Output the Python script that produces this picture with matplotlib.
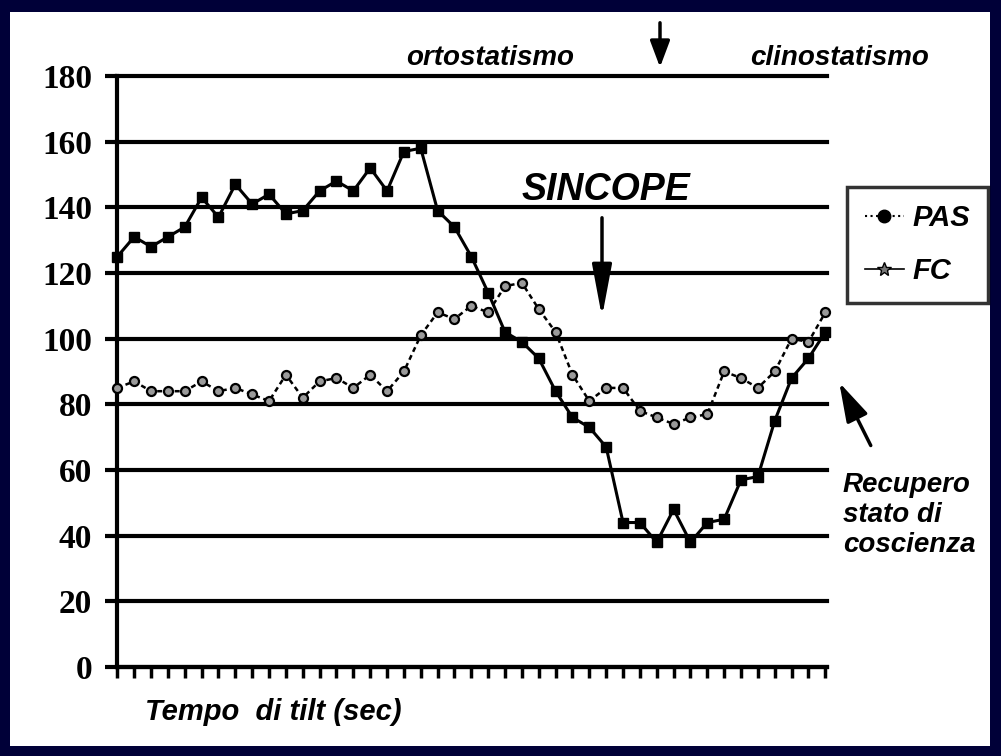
import matplotlib.pyplot as plt
from matplotlib.patches import Rectangle, FancyArrowPatch
from matplotlib.lines import Line2D

# tilt test: one reading per tick
tempo = list(range(43))
pas = [125, 131, 128, 131, 134, 143, 137, 147, 141, 144, 138, 139, 145, 148, 145,
       152, 145, 157, 158, 139, 134, 125, 114, 102, 99, 94, 84, 76, 73, 67,
       44, 44, 38, 48, 38, 44, 45, 57, 58, 75, 88, 94, 102]
fc = [85, 87, 84, 84, 84, 87, 84, 85, 83, 81, 89, 82, 87, 88, 85,
      89, 84, 90, 101, 108, 106, 110, 108, 116, 117, 109, 102, 89, 81, 85,
      85, 78, 76, 74, 76, 77, 90, 88, 85, 90, 100, 99, 108]
y_ticks = [0, 20, 40, 60, 80, 100, 120, 140, 160, 180]

W, H = 1001, 756
fig = plt.figure(figsize=(W / 100, H / 100), dpi=100, facecolor='#000038')
# white slide area inside the navy frame
fig.patches.append(Rectangle((10 / W, 10 / H), 980 / W, 734 / H,
                             transform=fig.transFigure, facecolor='white',
                             edgecolor='none', zorder=-10))

ax = fig.add_axes([117 / W, 1 - 667 / H, 710 / W, 591 / H])
ax.set_facecolor('none')

ax.plot(tempo, pas, color='black', lw=2.2, marker='s', ms=7.5,
        mfc='black', mec='black', zorder=4, clip_on=False)
ax.plot(tempo, fc, color='black', lw=1.8, ls=(0, (2, 1.5)), marker='o', ms=6.5,
        mfc='#9a9a9a', mec='black', mew=1.6, zorder=4, clip_on=False)

ax.set_ylim(0, 180)
ax.set_xlim(-0.02, 42.1)
ax.set_yticks(y_ticks)
ax.set_xticks(tempo)
ax.set_xticklabels([])
ax.grid(axis='y', color='black', lw=3)
for gl in ax.get_ygridlines():
    gl.set_clip_on(False)
ax.set_axisbelow(True)
for s in ['top', 'right']:
    ax.spines[s].set_visible(False)
ax.spines['left'].set_linewidth(3)
ax.spines['bottom'].set_linewidth(3)
ax.tick_params(axis='y', direction='out', length=9, width=3, pad=9)
ax.tick_params(axis='x', direction='out', length=8, width=2.5)
for lab in ax.get_yticklabels():
    lab.set_fontfamily('Liberation Serif')
    lab.set_fontweight('bold')
    lab.set_fontsize(24)

txt = dict(family='Liberation Sans', weight='bold', style='italic', color='black')

def fx(px):
    return px / W

def fy(py):
    return 1 - py / H

fig.text(fx(490), fy(58), 'ortostatismo', ha='center', va='center', fontsize=20, **txt)
fig.text(fx(840), fy(58), 'clinostatismo', ha='center', va='center', fontsize=20, **txt)
fig.text(fx(606), fy(190), 'SINCOPE', ha='center', va='center', fontsize=27, **txt)
fig.text(fx(145), fy(712), 'Tempo  di tilt (sec)', ha='left', va='center', fontsize=21, **txt)
fig.text(fx(843), fy(515), 'Recupero\nstato di\ncoscienza', ha='left', va='center',
         fontsize=20, linespacing=1.2, **txt)

# (start, end, head length, head width)
arrows = [((660, 20), (660, 70), 0.8, 0.3),
          ((602, 215), (602, 320), 1.6, 0.3),
          ((872, 448), (838, 380), 1.2, 0.35)]
for (x0, y0), (x1, y1), hl, hw in arrows:
    fig.add_artist(FancyArrowPatch((fx(x0), fy(y0)), (fx(x1), fy(y1)),
                                   transform=fig.transFigure, mutation_scale=20,
                                   arrowstyle=f'-|>,head_length={hl},head_width={hw}',
                                   color='black', lw=2.5))

handles = [Line2D([], [], color='black', lw=1.5, ls=':', marker='o', ms=9, mfc='black'),
           Line2D([], [], color='black', lw=1.2, ls='-', marker='*', ms=10, mfc='#777777',
                  mec='black')]
leg = fig.legend(handles, ['PAS', 'FC'], loc='upper left',
                 bbox_to_anchor=(fx(847), fy(187)), bbox_transform=fig.transFigure,
                 frameon=True, fancybox=False, edgecolor='black', borderaxespad=0,
                 handlelength=1.35, handletextpad=0.3, labelspacing=0.85, borderpad=0.6,
                 prop=dict(family='Liberation Sans', weight='bold', style='italic', size=21))
leg.get_frame().set_linewidth(2.5)

fig.savefig('out.png', dpi=100, facecolor=fig.get_facecolor())
